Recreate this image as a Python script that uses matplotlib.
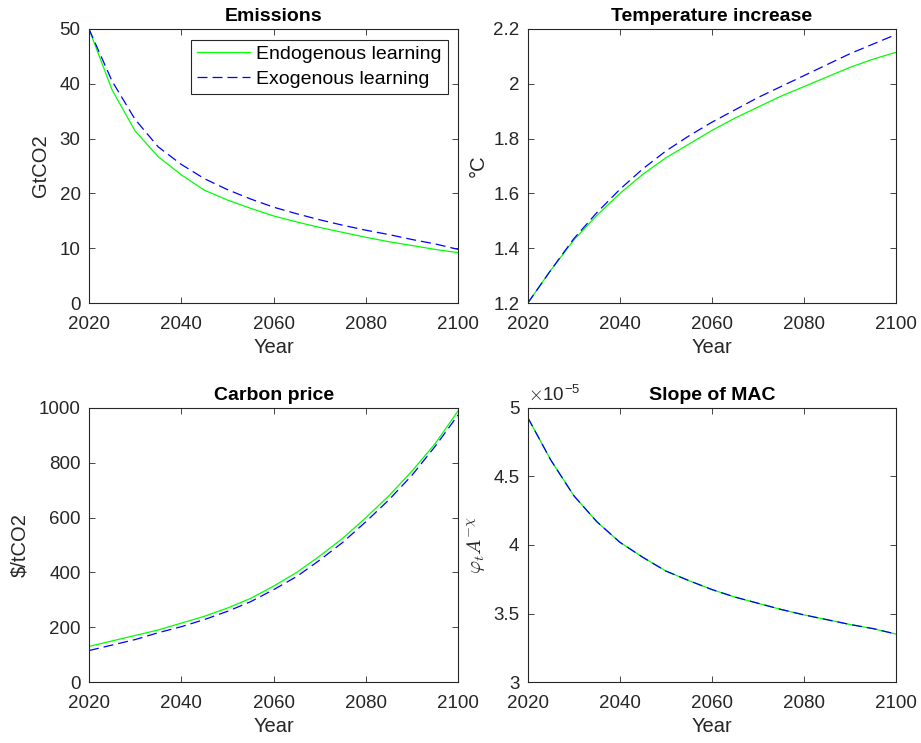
import numpy as np
import matplotlib.pyplot as plt
from matplotlib.ticker import FuncFormatter

plt.rcParams['font.family'] = ['Liberation Sans', 'DejaVu Sans']
plt.rcParams['mathtext.fontset'] = 'cm'

years = [2020, 2025, 2030, 2035, 2040, 2045, 2050, 2055, 2060,
         2065, 2070, 2075, 2080, 2085, 2090, 2095, 2100]

# emissions (GtCO2)
emis_endo = [50, 38.9, 31.4, 26.7, 23.4, 20.6, 18.8, 17.3, 15.9,
             14.8, 13.8, 12.9, 12.0, 11.2, 10.5, 9.8, 9.2]
emis_exo = [50, 40.5, 33.5, 28.5, 25.3, 22.7, 20.7, 19.0, 17.5,
            16.3, 15.2, 14.2, 13.3, 12.5, 11.6, 10.8, 9.8]

# temperature increase (degC)
temp_endo = [1.2, 1.32, 1.43, 1.52, 1.60, 1.67, 1.73, 1.78, 1.83,
             1.875, 1.915, 1.955, 1.99, 2.025, 2.06, 2.09, 2.115]
temp_exo = [1.2, 1.32, 1.435, 1.53, 1.615, 1.69, 1.755, 1.81, 1.86,
            1.905, 1.95, 1.99, 2.03, 2.07, 2.11, 2.145, 2.18]

# carbon price ($/tCO2)
price_endo = [130, 150, 170, 190, 215, 240, 270, 305, 350,
              400, 460, 525, 600, 680, 770, 870, 990]
price_exo = [115, 135, 155, 180, 202, 228, 258, 293, 337,
             385, 445, 510, 585, 665, 755, 860, 975]

# slope of MAC (x1e-5)
mac_endo = [4.93, 4.62, 4.36, 4.17, 4.02, 3.91, 3.81, 3.74, 3.675,
            3.62, 3.575, 3.53, 3.49, 3.455, 3.42, 3.39, 3.35]
mac_exo = [4.93, 4.62, 4.36, 4.17, 4.02, 3.91, 3.81, 3.74, 3.675,
           3.62, 3.575, 3.53, 3.49, 3.455, 3.42, 3.39, 3.35]

green = '#00ff00'
blue = '#0000ff'
dash = (0, (8, 4))
fs = 13.5
dark = '#262626'

fig = plt.figure(figsize=(9.21, 7.43), dpi=100)
pos = [[0.0966, 0.592, 0.401, 0.369], [0.573, 0.592, 0.400, 0.369],
       [0.0966, 0.082, 0.401, 0.369], [0.573, 0.082, 0.400, 0.369]]
axs = [fig.add_axes(p) for p in pos]


def style(ax, title, ylabel, ylim, yticks, ylpad=4):
    ax.set_xlim(2020, 2100)
    ax.set_xticks([2020, 2040, 2060, 2080, 2100])
    ax.set_ylim(ylim)
    ax.set_yticks(yticks)
    ax.set_title(title, fontsize=14, fontweight='bold', pad=6)
    ax.set_xlabel('Year', fontsize=14.5, color=dark, labelpad=4)
    ax.set_ylabel(ylabel, fontsize=14.5, color=dark, labelpad=ylpad)
    ax.tick_params(direction='in', top=True, right=True, labelsize=fs,
                   colors=dark, length=4, width=0.6)
    ax.tick_params(axis='x', pad=9)
    ax.tick_params(axis='y', pad=6)
    for s in ax.spines.values():
        s.set_color(dark)
        s.set_linewidth(0.8)


ax = axs[0]
ax.plot(years, emis_endo, color=green, lw=0.9, label='Endogenous learning')
ax.plot(years, emis_exo, color=blue, lw=0.9, ls=dash, label='Exogenous learning')
style(ax, 'Emissions', 'GtCO2', (0, 50), [0, 10, 20, 30, 40, 50], ylpad=7)
leg = ax.legend(loc='upper right', fontsize=14, fancybox=False, edgecolor=dark,
                framealpha=1, borderaxespad=0.55, handlelength=2.75, borderpad=0.3,
                labelspacing=0.38, handletextpad=0.3)
leg.get_frame().set_linewidth(0.8)

ax = axs[1]
ax.plot(years, temp_endo, color=green, lw=0.9)
ax.plot(years, temp_exo, color=blue, lw=0.9, ls=dash)
style(ax, 'Temperature increase', '°C', (1.2, 2.2), [1.2, 1.4, 1.6, 1.8, 2.0, 2.2])
ax.yaxis.set_major_formatter(FuncFormatter(lambda v, p: '%g' % round(v, 2)))

ax = axs[2]
ax.plot(years, price_endo, color=green, lw=0.9)
ax.plot(years, price_exo, color=blue, lw=0.9, ls=dash)
style(ax, 'Carbon price', '$/tCO2', (0, 1000), [0, 200, 400, 600, 800, 1000], ylpad=7)

ax = axs[3]
ax.plot(years, mac_endo, color=green, lw=0.9)
ax.plot(years, mac_exo, color=blue, lw=0.9, ls=dash)
style(ax, 'Slope of MAC', r'$\varphi_t A^{-\chi}$', (3, 5), [3, 3.5, 4, 4.5, 5])
ax.yaxis.set_major_formatter(FuncFormatter(lambda v, p: '%g' % v))
ax.text(0.0, 1.01, r'$\times$10$^{\mathregular{-5}}$', transform=ax.transAxes,
        fontsize=fs, color=dark, va='bottom', ha='left')

fig.savefig('out.png', dpi=100)
